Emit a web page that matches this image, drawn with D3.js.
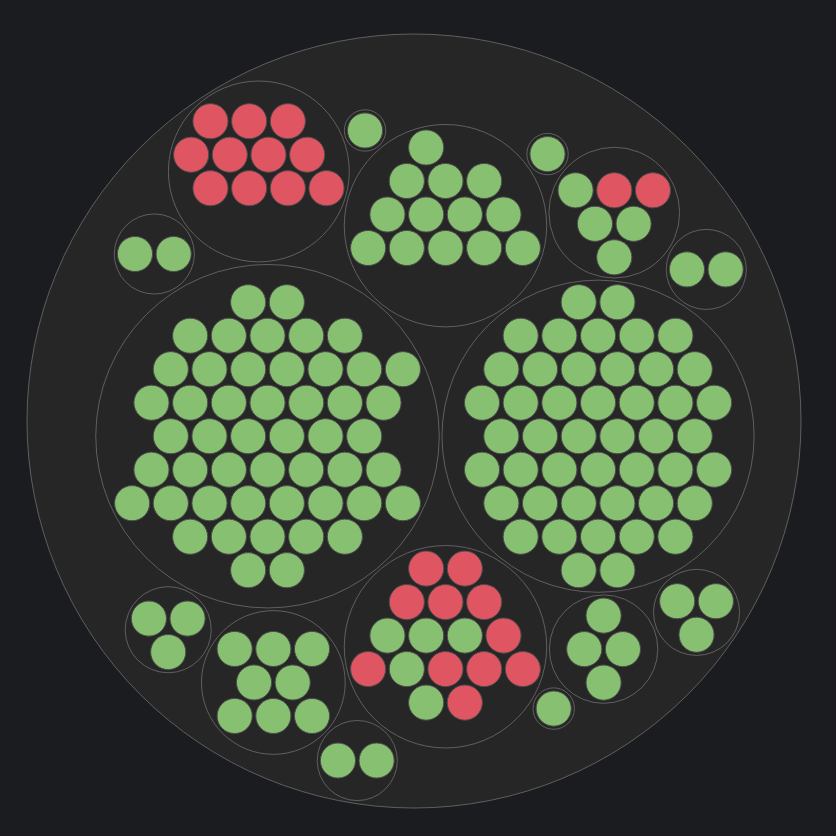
<!DOCTYPE html>
<html>
<head>
<meta charset="utf-8">
<script src="https://cdn.jsdelivr.net/npm/d3@7"></script>
<style>
  html, body { margin: 0; padding: 0; background: #1b1c20; }
  svg { display: block; }
</style>
</head>
<body>
<svg id="chart" width="836" height="836"></svg>
<script>
// --- Data ---

const groupNames = ["g1", "g2", "g3", "g4", "g5", "g6", "g7", "g8", "g9", "g10", "g11", "g12", "g13", "g14", "g15", "g16"];
const groupSizes = [49, 46, 16, 13, 11, 8, 6, 4, 3, 3, 2, 2, 2, 1, 1, 1];
// indices of failing (red) leaves inside each group
const redLeaves = {
  g3: [2, 3, 4, 5, 6, 9, 10, 11, 12, 13, 14],
  g5: [0, 1, 2, 3, 4, 5, 6, 7, 8, 9, 10],
  g7: [3, 5],
};

const COLORS = { ok: "#87c070", fail: "#e05562" };

// --- Layout ---

const data = {
  name: "root",
  children: groupSizes.map((n, i) => ({
    name: groupNames[i],
    children: d3.range(n).map((j) => ({
      name: groupNames[i] + "-" + j,
      status: (redLeaves[groupNames[i]] || []).includes(j) ? "fail" : "ok",
      value: 1,
    })),
  })),
};

const root = d3.hierarchy(data)
  .sum((d) => d.value || 0)
  .sort((a, b) => b.value - a.value);

d3.pack().size([774, 774]).padding(3)(root);

// --- Draw ---

const svg = d3.select("#chart");
const g = svg.append("g").attr("transform", "translate(27,34)");

g.selectAll("circle")
  .data(root.descendants())
  .join("circle")
  .attr("cx", (d) => d.x)
  .attr("cy", (d) => d.y)
  .attr("r", (d) => (d.children ? d.r : d.r - 0.4))
  .attr("fill", (d) => (d.children ? "#262626" : COLORS[d.data.status]))
  .attr("stroke", (d) => (d.children ? "#6e6e6e" : "#4a4a4a"))
  .attr("stroke-width", (d) => (d.children ? 0.8 : 1));
</script>
</body>
</html>
